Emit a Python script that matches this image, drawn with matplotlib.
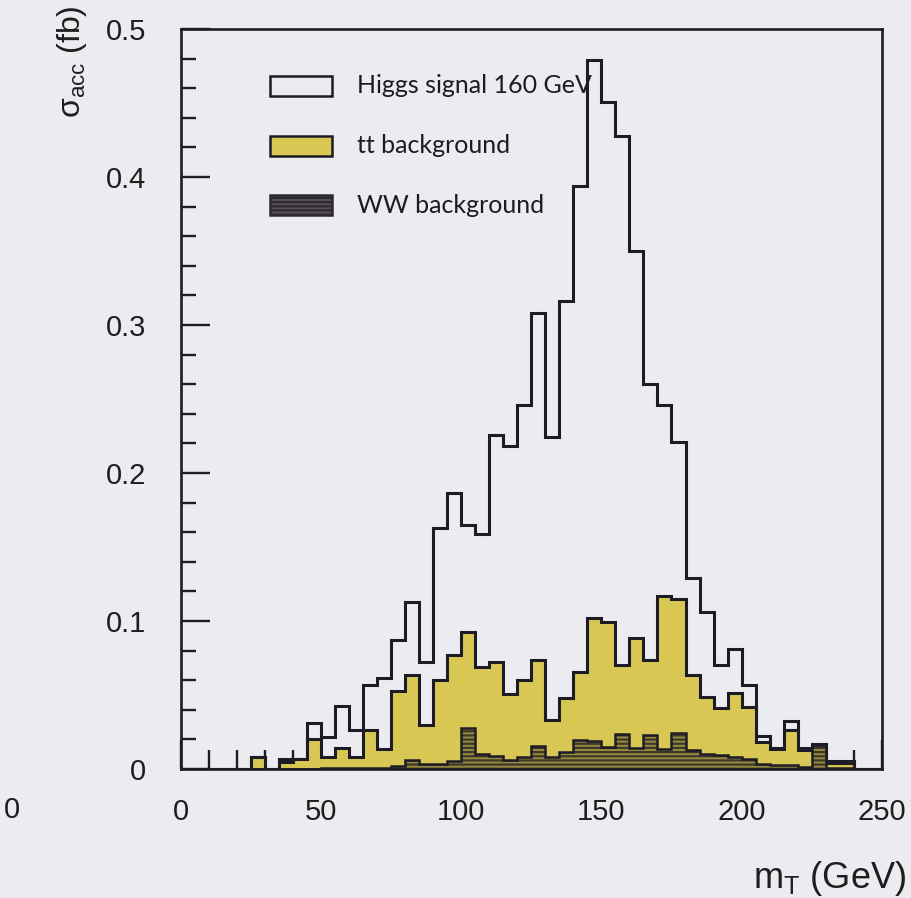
import numpy as np
import matplotlib
matplotlib.use("Agg")
import matplotlib.pyplot as plt
from matplotlib.patches import Rectangle
from matplotlib.ticker import MultipleLocator, FuncFormatter

plt.rcParams['font.family'] = ['Liberation Sans', 'DejaVu Sans']
plt.rcParams['mathtext.fontset'] = 'custom'
plt.rcParams['mathtext.rm'] = 'Liberation Sans'
plt.rcParams['mathtext.it'] = 'Liberation Sans:italic'
plt.rcParams['hatch.linewidth'] = 1.6

# transverse mass bins, 5 GeV wide, 0 - 250 GeV
edges = np.arange(0, 255, 5)

# accepted cross section per bin (fb), one entry per bin
higgs = [0, 0, 0, 0, 0, 0, 0, 0.002, 0, 0.011,
         0.0135, 0.0285, 0.0186, 0.0304, 0.0482, 0.0344, 0.0493, 0.0426, 0.103, 0.110,
         0.0722, 0.0899, 0.154, 0.167, 0.186, 0.2344, 0.191, 0.268, 0.3283, 0.3767,
         0.3509, 0.3578, 0.2617, 0.1864, 0.1288, 0.106, 0.0655, 0.0572, 0.0291, 0.0295,
         0.015, 0.0037, 0.0007, 0.0061, 0.0019, 0.0012, 0.0014, 0.0014, 0, 0]
ttbar = [0, 0, 0, 0, 0, 0.008, 0, 0.0045, 0.007, 0.020,
         0.007, 0.013, 0.007, 0.0256, 0.0125, 0.0506, 0.0574, 0.026, 0.0566, 0.0712,
         0.065, 0.0587, 0.0632, 0.0451, 0.0519, 0.058, 0.0249, 0.0365, 0.0458, 0.0836,
         0.0847, 0.0463, 0.0741, 0.0508, 0.1034, 0.0904, 0.0509, 0.0384, 0.0316, 0.0435,
         0.035, 0.0147, 0.0113, 0.0237, 0.0112, 0, 0.003, 0.003, 0, 0]
ww = [0, 0, 0, 0, 0, 0, 0, 0, 0, 0,
      0.001, 0.001, 0.001, 0.001, 0.001, 0.002, 0.0063, 0.0034, 0.0034, 0.0056,
      0.0278, 0.0104, 0.0088, 0.0059, 0.0081, 0.0156, 0.0081, 0.0115, 0.0199, 0.0187,
      0.0149, 0.0239, 0.0142, 0.0228, 0.0138, 0.0246, 0.0126, 0.0104, 0.0093, 0.008,
      0.007, 0.0036, 0.0025, 0.0025, 0.0014, 0.016, 0.001, 0.001, 0, 0]

labels = ['Higgs signal 160 GeV', 'tt background', 'WW background']

bg = '#ebebf0'
ink = '#1d1c26'
yellow = '#d8c853'
hatch_ink = '#3d3828'

# stacked: WW at the bottom, tt on top of it, signal on top of both
ww = np.array(ww)
tt_stack = ww + np.array(ttbar)
total = tt_stack + np.array(higgs)

fig = plt.figure(figsize=(9.11, 8.98), dpi=100, facecolor=bg)
ax = fig.add_axes([181 / 911, 1 - 769 / 898, 700.7 / 911, 740 / 898])
ax.set_facecolor(bg)

ax.stairs(total, edges, fill=True, facecolor=bg, edgecolor=ink, linewidth=2.2)
ax.stairs(tt_stack, edges, fill=True, facecolor=yellow, edgecolor=ink, linewidth=2.2)
ax.stairs(ww, edges, fill=True, facecolor=(0.42, 0.38, 0.2, 0.6),
          edgecolor=hatch_ink, hatch='----', linewidth=0)
ax.stairs(ww, edges, fill=False, edgecolor=ink, linewidth=1.8)

ax.set_xlim(0, 250)
ax.set_ylim(0, 0.5)
ax.set_axisbelow(True)
for s in ax.spines.values():
    s.set_linewidth(1.9)
    s.set_color(ink)

ax.xaxis.set_major_locator(MultipleLocator(50))
ax.xaxis.set_minor_locator(MultipleLocator(10))
ax.yaxis.set_major_locator(MultipleLocator(0.1))
ax.yaxis.set_minor_locator(MultipleLocator(0.02))
ax.yaxis.set_major_formatter(FuncFormatter(lambda v, p: '0' if abs(v) < 1e-9 else f'{v:.1f}'))
ax.tick_params(which='both', direction='in', top=False, right=False,
               color=ink, width=1.7, labelcolor='#1e1e1e')
ax.tick_params(which='major', length=21, labelsize=21)
ax.tick_params(which='minor', length=11)
ax.tick_params(axis='x', which='minor', length=14)
ax.tick_params(axis='x', pad=21)
ax.tick_params(axis='y', pad=25)

# legend boxes and labels
leg_x = (270 - 181) / 700.7
leg_w = 62 / 700.7
leg_h = 20 / 740
leg_rows = [0.923, 0.842, 0.762]
ax.add_patch(Rectangle((leg_x, leg_rows[0] - leg_h / 2), leg_w, leg_h, transform=ax.transAxes,
                       facecolor=bg, edgecolor=ink, linewidth=1.8))
ax.add_patch(Rectangle((leg_x, leg_rows[1] - leg_h / 2), leg_w, leg_h, transform=ax.transAxes,
                       facecolor=yellow, edgecolor=ink, linewidth=1.8))
ax.add_patch(Rectangle((leg_x, leg_rows[2] - leg_h / 2), leg_w, leg_h, transform=ax.transAxes,
                       facecolor='#55505c', edgecolor='#2e2a30', hatch='----', linewidth=1.8))
for yy, lab in zip(leg_rows, labels):
    ax.text(0.251, yy, lab, transform=ax.transAxes, ha='left', va='center',
            fontsize=18, color='#1c1b22', family=['Lato', 'DejaVu Sans'])

fig.text(72 / 911, 1 - 62 / 898, r'σ$_{\rm acc}$ (fb)', rotation=90,
         ha='center', va='center', fontsize=23, color='#1e1e1e')
fig.text(906 / 911, 1 - 878 / 898, r'm$_{\rm T}$ (GeV)', ha='right', va='center',
         fontsize=26, color='#1e1e1e')
fig.text(12 / 911, 1 - 810 / 898, '0', ha='center', va='center', fontsize=21, color='#1e1e1e')

fig.savefig('out.png', dpi=100, facecolor=bg)
